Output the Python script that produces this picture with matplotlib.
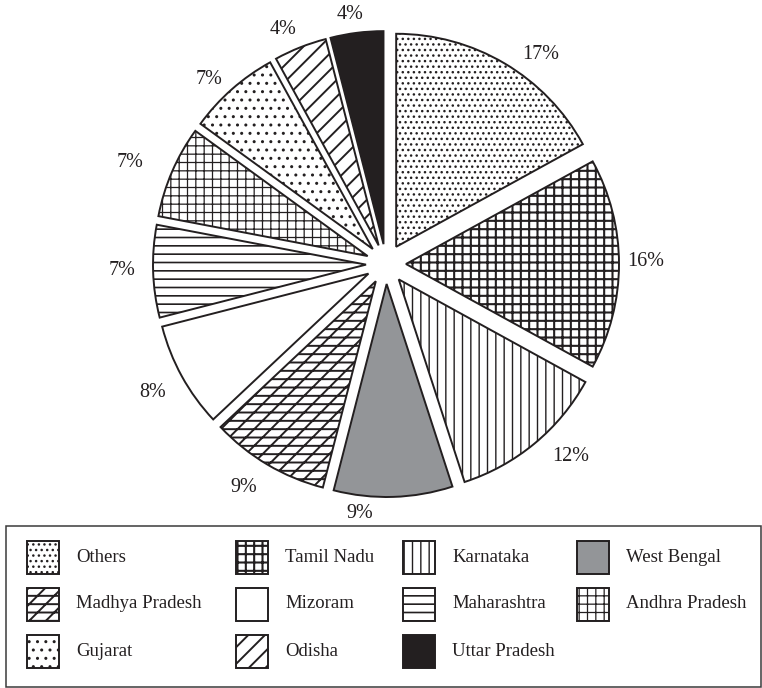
import numpy as np
import matplotlib
matplotlib.use("Agg")
import matplotlib.pyplot as plt
from matplotlib.patches import Rectangle

# ---- data ----
categories = ["Others", "Tamil Nadu", "Karnataka", "West Bengal",
              "Madhya Pradesh", "Mizoram", "Maharashtra", "Andhra Pradesh",
              "Gujarat", "Odisha", "Uttar Pradesh"]
shares = [17, 16, 12, 9, 9, 8, 7, 7, 7, 4, 4]
pct_labels = [f"{v}%" for v in shares]

# ---- styles ----
fills = ["white", "white", "white", "#939598", "white", "white", "white",
         "white", "white", "white", "#231f20"]
hatches = ["...", "++", "||", None, "--//", None, "--", "++", "..", "//", None]
hatch_lw = [1.0, 1.5, 1.0, 1.0, 1.4, 1.0, 1.2, 0.9, 1.0, 1.4, 1.0]
# label placement tweaks (angle shift in degrees, radial factor)
label_shift = [-6.3, 0.7, 4.6, -8.4, -2.0, 0.0, -0.5, 2.0, 2.6, 2.2, 1.0]
label_dist = [1.131, 1.127, 1.160, 1.085, 1.150, 1.155, 1.146, 1.200,
              1.108, 1.108, 1.089]
ink = "#231f20"
FONT = ["Liberation Serif", "DejaVu Serif"]
plt.rcParams["font.family"] = FONT
plt.rcParams["hatch.color"] = ink

W, H = 762, 688
fig = plt.figure(figsize=(W / 100, H / 100), dpi=100)
ax = fig.add_axes([0, 0, 1, 1])

cx, cy, R = 386, H - 264, 213
gap = 20  # explode offset in pixels (data units)
wedges, texts = ax.pie(
    shares, explode=[gap] * len(shares), radius=R, center=(cx, cy),
    startangle=90, counterclock=False, labels=pct_labels,
    labeldistance=1.12, frame=True,
    wedgeprops=dict(edgecolor=ink, linewidth=1.4),
    textprops=dict(fontsize=14.5, color=ink, family=FONT))

for w, fc, hp, hl in zip(wedges, fills, hatches, hatch_lw):
    w.set_facecolor(fc)
    if hp:
        w.set_hatch(hp)
        if hasattr(w, "set_hatch_linewidth"):
            w.set_hatch_linewidth(hl)
for w, t, sh, ld in zip(wedges, texts, label_shift, label_dist):
    thm = np.deg2rad(0.5 * (w.theta1 + w.theta2))
    wx, wy = w.center
    th = thm + np.deg2rad(sh)
    t.set_position((wx + ld * R * np.cos(th), wy + ld * R * np.sin(th)))
    t.set_ha("center")
    t.set_va("center")

ax.set_xlim(0, W)
ax.set_ylim(0, H)
ax.set_aspect("auto")
ax.axis("off")

# ---- legend box ----
box_l, box_t, box_r, box_b = 6, 526, 761, 687
ax.add_patch(Rectangle((box_l, H - box_b), box_r - box_l, box_b - box_t,
                       fill=False, edgecolor="#3a3a3a", linewidth=1.1,
                       clip_on=False))
col_x = [27, 236, 403, 577]
row_y = [557, 604, 651]
hw, hh = 32, 33
for i, (name, fc, hp, hl) in enumerate(zip(categories, fills, hatches, hatch_lw)):
    r, c = divmod(i, 4)
    x0 = col_x[c]
    yc = H - row_y[r]
    p = Rectangle((x0, yc - hh / 2), hw, hh, facecolor=fc, edgecolor=ink,
                  linewidth=1.4, hatch=hp)
    if hp and hasattr(p, "set_hatch_linewidth"):
        p.set_hatch_linewidth(hl)
    ax.add_patch(p)
    ax.text(x0 + hw + 17, yc, name, fontsize=13.5, color=ink,
            ha="left", va="center", family=FONT)

fig.savefig("out.png", dpi=100)
